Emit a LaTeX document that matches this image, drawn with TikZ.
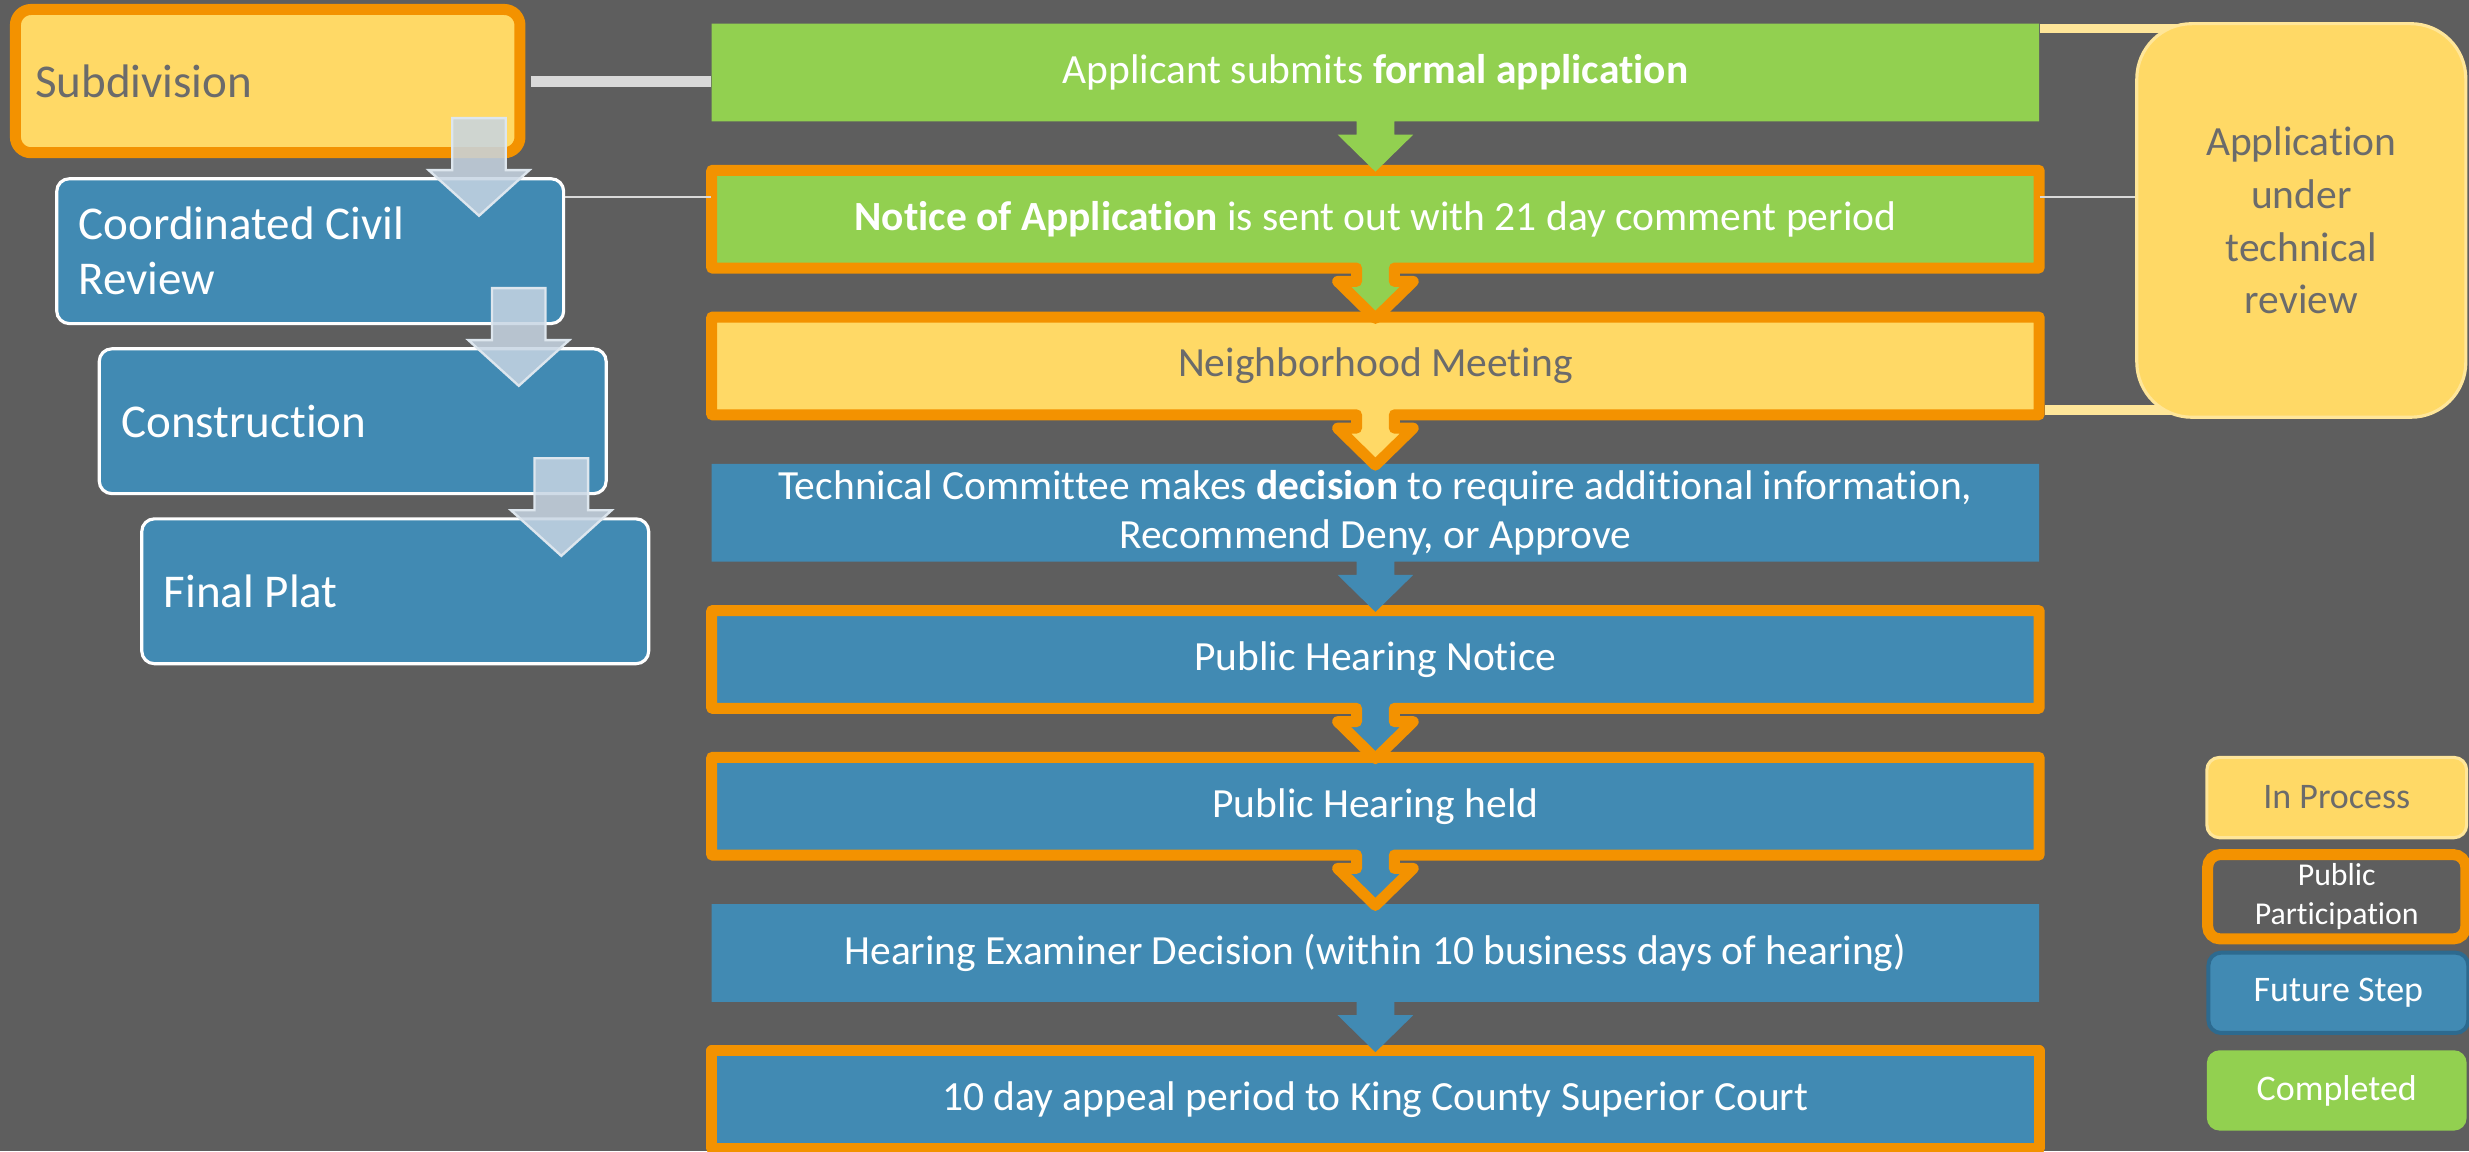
\documentclass[tikz,border=0pt]{standalone}
\usepackage{fontspec}
\setmainfont[Ligatures=NoCommon]{Carlito}
\definecolor{bg}{HTML}{5E5E5E}
\definecolor{sgreen}{HTML}{92D050}
\definecolor{syellow}{HTML}{FFD966}
\definecolor{lyellow}{HTML}{FFE699}
\definecolor{porange}{HTML}{F39200}
\definecolor{sblue}{HTML}{418AB3}
\definecolor{dblue}{HTML}{2D6A8F}
\definecolor{sgray}{HTML}{6B6B6B}
\definecolor{lgray}{HTML}{D9D9D9}
\definecolor{ablue}{HTML}{C7D5E3}
\begin{document}
\begin{tikzpicture}[x=.02cm, y=-.02cm,
 stp/.pic={\path[pic actions] (-421.5,-31) -- (421.5,-31) -- (421.5,31) -- (12,31) -- (12,39.5) -- (24,39.5) -- (0,63) -- (-24,39.5) -- (-12,39.5) -- (-12,31) -- (-421.5,31) -- cycle;},
 dn/.pic={\path[fill=ablue, fill opacity=.85, draw=ablue!60!white, line width=.03cm] (-17,0) -- (17,0) -- (17,33) -- (32,33) -- (0,62) -- (-32,33) -- (-17,33) -- cycle;},
 stepnode/.style={minimum width=16.86cm, minimum height=1.24cm, inner sep=0pt, align=center, text=white, font=\fontsize{15}{18}\selectfont},
 lbox/.style={rounded corners=.16cm, draw=white, line width=.04cm, fill=sblue, text=white, minimum height=1.84cm, text width=5.88cm, inner xsep=.28cm, align=flush left, font=\fontsize{17}{20}\selectfont},
 legbox/.style={rounded corners=.16cm, minimum width=3.3cm, minimum height=1.02cm, text=white, align=center, font=\fontsize{13}{15}\selectfont}]
\useasboundingbox (0,0) rectangle (1568,731);
\fill[bg] (0,0) rectangle (1568,731);
% steps, drawn from the bottom up
\path[fill=sblue, draw=porange, line width=.14cm, line join=round] (452,667.4) rectangle (1295,729.4);
\foreach \k/\fc/\oc in {6/sblue/none, 5/sblue/porange, 4/sblue/porange, 3/sblue/none, 2/syellow/porange, 1/sgreen/porange, 0/sgreen/none}
 \pic[fill=\fc, draw=\oc, line width=.14cm, line join=round] at (873.5,{46+93.2*\k}) {stp};
\path (873.5,46) node[stepnode] (s1) {Applicant submits \textbf{formal application}}
 ++(0,93.2) node[stepnode] (s2) {\textbf{Notice of Application} is sent out with 21 day comment period}
 ++(0,93.2) node[stepnode, text=sgray] (s3) {Neighborhood Meeting}
 ++(0,93.2) node[stepnode] (s4) {Technical Committee makes \textbf{decision} to require additional information,\\Recommend Deny, or Approve}
 ++(0,93.2) node[stepnode] (s5) {Public Hearing Notice}
 ++(0,93.2) node[stepnode] (s6) {Public Hearing held}
 ++(0,93.2) node[stepnode] (s7) {Hearing Examiner Decision (within 10 business days of hearing)}
 ++(0,93.2) node[stepnode] (s8) {10 day appeal period to King County Superior Court};
% left column
\node[lbox, fill=syellow, draw=porange, line width=.14cm, text=sgray, text width=5.91cm, inner xsep=.25cm, minimum height=1.82cm, rounded corners=.2cm] (sub) at (170,51.5) {Subdivision};
\node[lbox] (ccr) at (197,159.5) {Coordinated Civil\\Review};
\node[lbox] (con) at (224,267.5) {Construction};
\node[lbox] (fp) at (251,375.5) {Final Plat};
% connectors
\coordinate (apc) at (1461.5,140);
\coordinate (tl) at ([shift={(0,-34.5)}]ccr.east);
\coordinate (yt) at ([shift={(0,3.5)}]s1.north east);
\coordinate (yb) at ([shift={(0,-3.5)}]s3.south east);
\draw[lgray, line width=.14cm, shorten <=.07cm] (sub.east) -- (sub.east -| s1.west);
\draw[lgray, line width=.03cm] (tl) -- (tl -| s2.west) (tl -| s2.east) -- (tl -| apc);
\draw[lyellow, line width=.12cm] (yt) -- (yt -| apc);
\draw[lyellow, line width=.12cm, shorten <=.07cm] (yb) -- (yb -| apc);
\node[fill=syellow, draw=lyellow, line width=.04cm, rounded corners=.7cm, minimum width=4.18cm, minimum height=5cm, text=sgray, align=center, font=\fontsize{15}{19}\selectfont] (app) at (apc) {Application\\under\\technical\\review};
\foreach \a in {sub,ccr,con} \pic at ([shift={(-29.5,23.5)}]\a.east) {dn};
% legend
\node[legbox, fill=syellow, draw=lyellow, line width=.04cm, text=sgray] (lg1) at (1484,506.5) {In Process};
\node[legbox, draw=porange, line width=.14cm, minimum width=3.28cm, minimum height=.98cm, font=\fontsize{11.5}{14}\selectfont] (lg2) at (1484,569.5) {Public\\Participation};
\node[legbox, fill=sblue, draw=dblue, line width=.05cm] (lg3) at (1485,630.5) {Future Step};
\node[legbox, fill=sgreen] (lg4) at (1484,692.5) {Completed};
\end{tikzpicture}
\end{document}
